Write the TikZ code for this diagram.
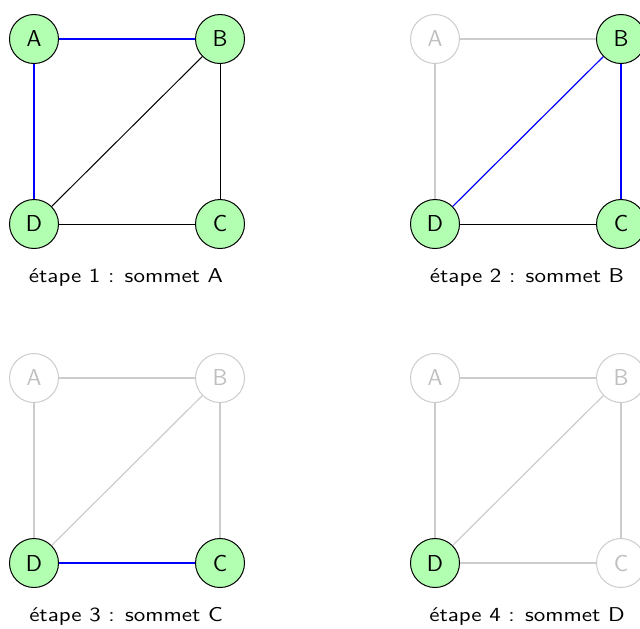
\documentclass[tikz,border=0pt]{standalone}
\usepackage{fontspec}
\begin{document}
\begin{tikzpicture}[x=0.5pt,y=-0.5pt,
  vbase/.style={circle, minimum size=24.5pt, inner sep=0pt, line width=0.5pt,
    font=\fontsize{11.5}{12}\selectfont\sffamily},
  v/.style={vbase, draw=black, fill=green!30, text=black},
  vg/.style={vbase, draw=black!20, fill=white, text=black!25},
  eb/.style={draw=blue, line width=0.6pt},
  ek/.style={draw=black, line width=0.5pt},
  eg/.style={draw=black!20, line width=0.6pt},
  captxt/.style={anchor=base, inner sep=0pt,
    font=\fontsize{10}{12}\selectfont\sffamily\addfontfeature{LetterSpace=5}}]
\useasboundingbox (0,0) rectangle (640,628);
\clip (0,0) rectangle (640,628);
% panel 1
\begin{scope}
  \node[v] (a1) at (34,39) {A};
  \node[v] (b1) at (220,39) {B};
  \node[v] (c1) at (220,224) {C};
  \node[v] (d1) at (34,224) {D};
  \draw[eb] (a1) -- (b1);
  \draw[eb] (a1) -- (d1);
  \draw[ek] (b1) -- (d1);
  \draw[ek] (b1) -- (c1);
  \draw[ek] (d1) -- (c1);
  \node[captxt] (t1) at (126,282) {\scalebox{1.15}[1]{étape 1 : sommet A}};
\end{scope}
% panel 2
\begin{scope}[shift={(401,0)}]
  \node[vg] (a2) at (34,39) {A};
  \node[v] (b2) at (220,39) {B};
  \node[v] (c2) at (220,224) {C};
  \node[v] (d2) at (34,224) {D};
  \draw[eg] (a2) -- (b2);
  \draw[eg] (a2) -- (d2);
  \draw[eb] (b2) -- (d2);
  \draw[eb] (b2) -- (c2);
  \draw[ek] (d2) -- (c2);
  \node[captxt] (t2) at (126,282) {\scalebox{1.15}[1]{étape 2 : sommet B}};
\end{scope}
% panel 3
\begin{scope}[shift={(0,339)}]
  \node[vg] (a3) at (34,39) {A};
  \node[vg] (b3) at (220,39) {B};
  \node[v] (c3) at (220,224) {C};
  \node[v] (d3) at (34,224) {D};
  \draw[eg] (a3) -- (b3);
  \draw[eg] (a3) -- (d3);
  \draw[eg] (b3) -- (d3);
  \draw[eg] (b3) -- (c3);
  \draw[eb] (d3) -- (c3);
  \node[captxt] (t3) at (126,282) {\scalebox{1.15}[1]{étape 3 : sommet C}};
\end{scope}
% panel 4
\begin{scope}[shift={(401,339)}]
  \node[vg] (a4) at (34,39) {A};
  \node[vg] (b4) at (220,39) {B};
  \node[vg] (c4) at (220,224) {C};
  \node[v] (d4) at (34,224) {D};
  \draw[eg] (a4) -- (b4);
  \draw[eg] (a4) -- (d4);
  \draw[eg] (b4) -- (d4);
  \draw[eg] (b4) -- (c4);
  \draw[eg] (d4) -- (c4);
  \node[captxt] (t4) at (126,282) {\scalebox{1.15}[1]{étape 4 : sommet D}};
\end{scope}
\end{tikzpicture}
\end{document}
